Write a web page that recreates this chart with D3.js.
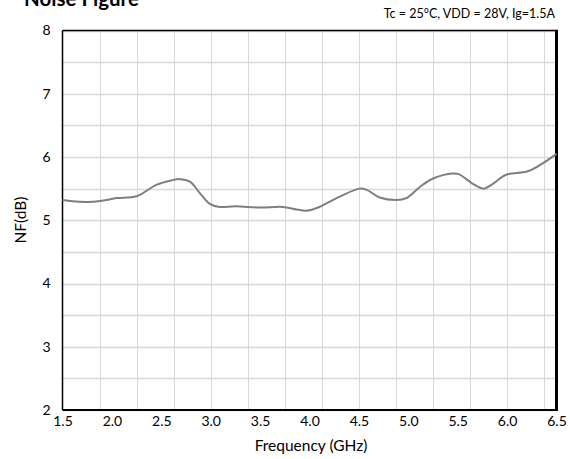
<!DOCTYPE html>
<html><head><meta charset="utf-8">
<script src="https://cdn.jsdelivr.net/npm/d3@7"></script>
<style>body{margin:0;background:#fff}svg{display:block}text{font-family:Lato,"Open Sans",sans-serif;fill:#000}</style>
</head><body><svg id="c" width="570" height="459"></svg>
<script>
const freq = [1.5,1.6,1.75,1.9,2.05,2.25,2.45,2.6,2.69,2.79,2.89,2.99,3.09,3.25,3.5,3.73,3.87,3.97,4.1,4.3,4.51,4.58,4.71,4.88,4.98,5.12,5.25,5.45,5.51,5.65,5.76,5.86,5.99,6.2,6.33,6.5];
const nf = [5.32,5.30,5.29,5.31,5.35,5.38,5.56,5.63,5.65,5.61,5.43,5.26,5.21,5.22,5.20,5.21,5.17,5.15,5.21,5.37,5.50,5.48,5.36,5.32,5.35,5.53,5.66,5.74,5.73,5.58,5.50,5.58,5.72,5.77,5.87,6.05];
const xTicks = [1.5,2.0,2.5,3.0,3.5,4.0,4.5,5.0,5.5,6.0,6.5];
const yTicks = [2,3,4,5,6,7,8];
const xGrid = d3.range(1.5, 6.5, 0.375);
const yGrid = d3.range(2, 8.01, 0.5);
const title = "Noise Figure";
const subtitle = "Tc = 25°C, VDD = 28V, Ig=1.5A";

const svg = d3.select("#c");
const L = 62.5, R = 556.5, T = 30.5, B = 410;
const x = d3.scaleLinear().domain([1.5, 6.5]).range([L, R]);
const y = d3.scaleLinear().domain([2, 8]).range([B, T]);

const g = svg.append("g");
g.selectAll(".vg").data(xGrid.slice(1)).join("line")
  .attr("x1", d => Math.round(x(d)) + 0.5).attr("x2", d => Math.round(x(d)) + 0.5)
  .attr("y1", T).attr("y2", B).attr("stroke", "#d9d9d9").attr("stroke-width", 1);
g.selectAll(".hg").data(yGrid).join("line")
  .attr("x1", L).attr("x2", R)
  .attr("y1", d => Math.round(y(d)) + 0.5).attr("y2", d => Math.round(y(d)) + 0.5)
  .attr("stroke", "#d9d9d9").attr("stroke-width", 1.3);

// frame
svg.append("line").attr("x1", L).attr("x2", L).attr("y1", T).attr("y2", B).attr("stroke", "#000").attr("stroke-width", 1.5);
svg.append("line").attr("x1", L).attr("x2", R).attr("y1", T).attr("y2", T).attr("stroke", "#000").attr("stroke-width", 1.5);
svg.append("line").attr("x1", L).attr("x2", R + 1.5).attr("y1", B).attr("y2", B).attr("stroke", "#000").attr("stroke-width", 2);
svg.append("line").attr("x1", R).attr("x2", R).attr("y1", T - 0.7).attr("y2", B + 1).attr("stroke", "#000").attr("stroke-width", 3);

const line = d3.line().x((d, i) => x(freq[i])).y(d => y(d)).curve(d3.curveCatmullRom.alpha(0.5));
svg.append("path").datum(nf).attr("d", line).attr("fill", "none")
  .attr("stroke", "#7f7f7f").attr("stroke-width", 2);

// axes labels
const xa = d3.axisBottom(x).tickValues(xTicks).tickFormat(d3.format(".1f")).tickSize(0).tickPadding(6);
const xg = svg.append("g").attr("transform", `translate(0,${B})`).call(xa);
xg.select(".domain").remove();
xg.selectAll("text").attr("font-size", 14).attr("fill", "#000").style("font-family", "Lato,'Open Sans',sans-serif");
const ya = d3.axisLeft(y).tickValues(yTicks).tickFormat(d3.format("d")).tickSize(0).tickPadding(12);
const yg = svg.append("g").attr("transform", `translate(${L},0)`).call(ya);
yg.select(".domain").remove();
yg.selectAll("text").attr("font-size", 14).attr("fill", "#000").style("font-family", "Lato,'Open Sans',sans-serif");

svg.append("text").attr("x", 311).attr("y", 451).attr("text-anchor", "middle").attr("font-size", 15.5).text("Frequency (GHz)");
svg.append("text").attr("transform", "translate(26,220) rotate(-90)").attr("text-anchor", "middle").attr("font-size", 15.5).text("NF(dB)");
svg.append("text").attr("x", 24).attr("y", 6).attr("font-size", 20.5).attr("font-weight", "bold").text(title);
svg.append("text").attr("x", 555).attr("y", 18).attr("text-anchor", "end").attr("font-size", 12.5).text(subtitle);
</script></body></html>
